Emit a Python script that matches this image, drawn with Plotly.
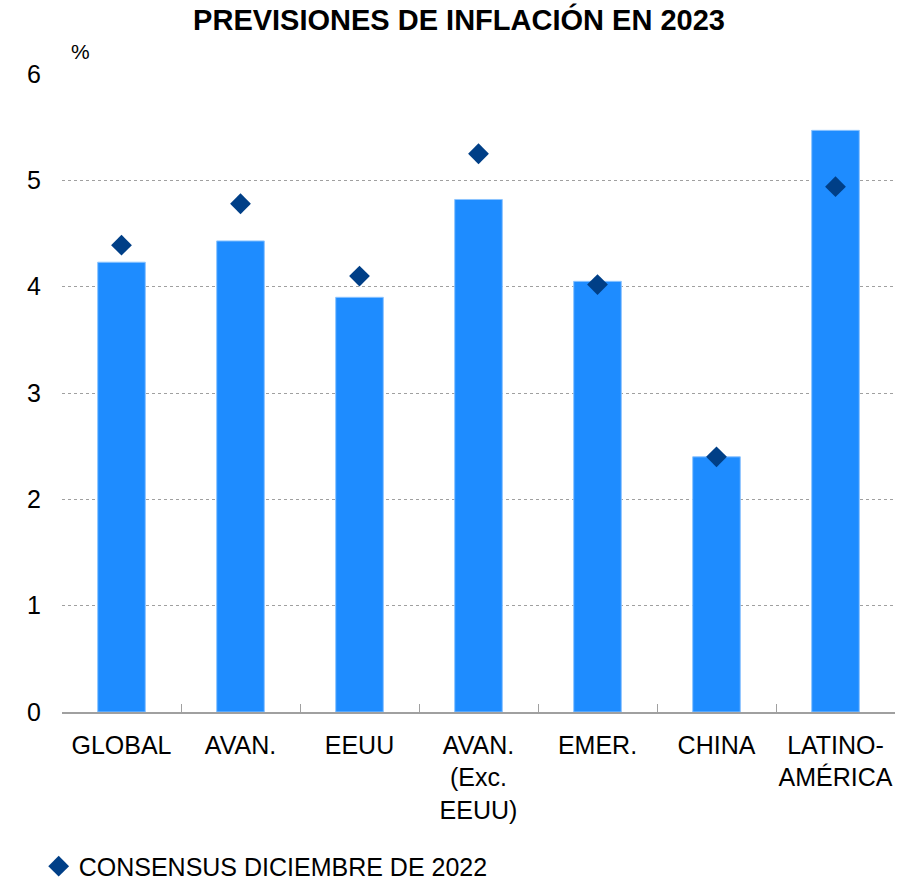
import plotly.graph_objects as go

categories = ["GLOBAL", "AVAN.", "EEUU", "AVAN.<br>(Exc.<br>EEUU)", "EMER.", "CHINA", "LATINO-<br>AMÉRICA"]
forecast_values = [4.23, 4.43, 3.90, 4.82, 4.05, 2.40, 5.47]
consensus_values = [4.39, 4.78, 4.10, 5.25, 4.02, 2.40, 4.94]
y_ticks = [0, 1, 2, 3, 4, 5, 6]

FONT = "Liberation Sans, Arial, sans-serif"

fig = go.Figure()
fig.add_trace(go.Bar(
    x=categories, y=forecast_values,
    marker=dict(color="#1E8CFF", line=dict(color="#8CC4FF", width=1)),
    width=0.4, showlegend=False, name="Previsión",
))
fig.add_trace(go.Scatter(
    x=categories, y=consensus_values, mode="markers",
    marker=dict(symbol="diamond", size=16, color="#003F87"),
    name="CONSENSUS DICIEMBRE DE 2022",
))

fig.update_layout(
    width=918, height=882,
    margin=dict(l=62, r=23, t=74, b=170, autoexpand=False),
    paper_bgcolor="white", plot_bgcolor="white",
    font=dict(family=FONT, size=25, color="black"),
    title=dict(text="<b>PREVISIONES DE INFLACIÓN EN 2023</b>", x=0.5, xanchor="center",
               y=0.977, yanchor="middle", xref="container",
               font=dict(family=FONT, size=29, color="black")),
    showlegend=True,
    legend=dict(orientation="h", x=-0.028, xanchor="left", y=-0.242, yanchor="middle",
                font=dict(family=FONT, size=25, color="black"), itemwidth=30,
                bgcolor="rgba(0,0,0,0)"),
    bargap=0.6,
)
fig.update_xaxes(
    type="category", range=[-0.5, 6.5], automargin=False, tickangle=0,
    showline=True, linecolor="#A0A0A0", linewidth=1.5,
    ticks="inside", tickson="boundaries", ticklen=8, tickcolor="#A0A0A0", tickwidth=1,
    ticklabelstandoff=10,
    showgrid=False, tickfont=dict(size=25, color="black"),
)
fig.update_yaxes(
    range=[0, 6], tickvals=y_ticks, ticktext=[str(v) for v in y_ticks], automargin=False,
    showgrid=True, gridcolor="#A0A0A0", griddash="dot", gridwidth=1,
    zeroline=False, showline=False, ticks="", ticklabelstandoff=20,
    tickfont=dict(size=25, color="black"),
)
fig.add_annotation(text="%", xref="paper", yref="paper", x=0.008, y=1.035,
                   xanchor="left", yanchor="middle", showarrow=False,
                   font=dict(family=FONT, size=21, color="black"))

fig.write_html("out.html")
